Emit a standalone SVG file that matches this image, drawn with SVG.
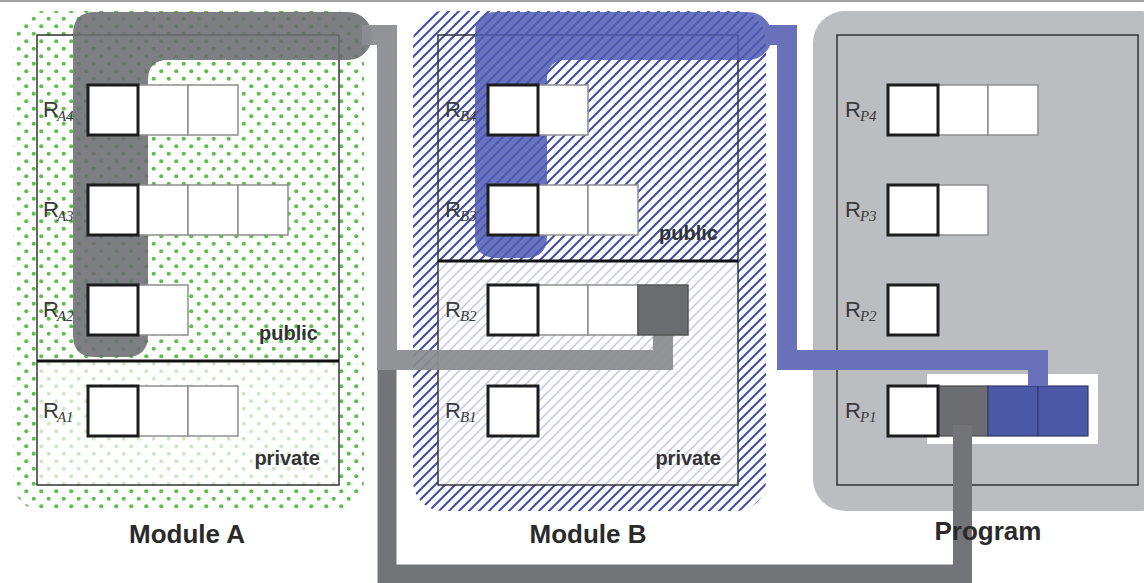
<svg xmlns="http://www.w3.org/2000/svg" width="1144" height="583" viewBox="0 0 1144 583">
<style>
.cell{fill:#fff;stroke:#8e8e8e;stroke-width:1.5}
.key{fill:#fff;stroke:#1c1c1c;stroke-width:3}
.frame{fill:none;stroke:#333;stroke-width:1.5}
.div{stroke:#111;stroke-width:3}
.lbl{font-family:"Liberation Sans",Arial,sans-serif;font-size:22px;fill:#3a3a3a}
.sub{font-family:"Liberation Serif","Times New Roman",serif;font-size:15px;font-style:italic}
.vis{font-family:"Liberation Sans",Arial,sans-serif;font-size:20px;font-weight:bold;fill:#333;text-anchor:end}
.title{font-family:"Liberation Sans",Arial,sans-serif;font-size:26px;font-weight:bold;fill:#2a2a2a;text-anchor:middle}
.conn{fill:none;stroke-linejoin:miter;stroke-linecap:butt}
</style>
<defs>
<pattern id="dots" patternUnits="userSpaceOnUse" width="15" height="15">
<circle cx="3.75" cy="3.75" r="2.1" fill="#5cbf4a"/>
<circle cx="11.25" cy="11.25" r="2.1" fill="#5cbf4a"/>
</pattern>
<pattern id="dotsLight" patternUnits="userSpaceOnUse" width="15" height="15">
<circle cx="3.75" cy="3.75" r="2" fill="#cce9c4"/>
<circle cx="11.25" cy="11.25" r="2" fill="#cce9c4"/>
</pattern>
<pattern id="hatch" patternUnits="userSpaceOnUse" width="10" height="10">
<path d="M-1,1 L1,-1 M0,10 L10,0 M9,11 L11,9" stroke="#3d4cae" stroke-width="2"/>
</pattern>
<pattern id="hatchLight" patternUnits="userSpaceOnUse" width="10" height="10">
<path d="M-1,1 L1,-1 M0,10 L10,0 M9,11 L11,9" stroke="#c3c7e6" stroke-width="1.5"/>
</pattern>
</defs>
<rect x="0" y="0" width="1144" height="583" fill="#fff"/>
<rect x="0" y="0" width="1144" height="2" fill="#a0a0a0"/>

<g id="moduleA">
<rect x="13" y="11" width="351" height="500" rx="30" fill="url(#dots)"/>
<rect x="37" y="361" width="302" height="124" fill="#fff"/>
<rect x="37" y="361" width="302" height="124" fill="url(#dotsLight)"/>
<rect class="frame" x="37" y="35" width="302" height="450"/>
<line class="div" x1="37" y1="361" x2="339" y2="361"/>
<text class="vis" x="318" y="340">public</text>
<text class="vis" x="320" y="465">private</text>
<text class="title" x="187" y="543">Module A</text>
</g>

<g id="moduleB">
<rect x="413" y="11" width="353" height="500" rx="30" fill="url(#hatch)"/>
<rect x="438" y="261" width="300" height="224" fill="#fff"/>
<rect x="438" y="261" width="300" height="224" fill="url(#hatchLight)"/>
<rect class="frame" x="438" y="35" width="300" height="450"/>
<line class="div" x1="438" y1="261" x2="738" y2="261"/>
<text class="vis" x="718" y="240">public</text>
<text class="vis" x="721" y="465">private</text>
<text class="title" x="588" y="543">Module B</text>
</g>

<g id="program">
<rect x="813" y="11" width="360" height="500" rx="32" fill="#bcbdc1"/>
<rect class="frame" x="837" y="35" width="301" height="450"/>
</g>

<g id="exports">
<path d="M95,12 H348 A24,24 0 0 1 348,60 H168 Q148,60 148,80 V335 Q148,357 126,357 H95 Q73,357 73,335 V34 Q73,12 95,12 Z" fill="#6c6d71" fill-opacity="0.88"/>
<path d="M497,12 H748 A24,24 0 0 1 748,60 H567 Q547,60 547,80 V236 Q547,258 525,258 H497 Q475,258 475,236 V34 Q475,12 497,12 Z" fill="#4f5ab3" fill-opacity="0.85"/>
</g>

<g id="connectors">
<path class="conn" d="M362,35 H387 V360 H663 V335" stroke="#8c8d91" stroke-width="20" stroke-opacity="0.95"/>
<path class="conn" d="M766,35 H787 V360 H1038 V374" stroke="#6a71bb" stroke-width="20"/>
</g>

<g id="regA4"><rect class="cell" x="138" y="85" width="50" height="50"/><rect class="cell" x="188" y="85" width="50" height="50"/><rect class="key" x="88" y="85" width="50" height="50"/><text class="lbl" x="43" y="117">R<tspan class="sub" dx="-2" dy="4">A4</tspan></text></g>
<g id="regA3"><rect class="cell" x="138" y="185" width="50" height="50"/><rect class="cell" x="188" y="185" width="50" height="50"/><rect class="cell" x="238" y="185" width="50" height="50"/><rect class="key" x="88" y="185" width="50" height="50"/><text class="lbl" x="43" y="217">R<tspan class="sub" dx="-2" dy="4">A3</tspan></text></g>
<g id="regA2"><rect class="cell" x="138" y="285" width="50" height="50"/><rect class="key" x="88" y="285" width="50" height="50"/><text class="lbl" x="43" y="317">R<tspan class="sub" dx="-2" dy="4">A2</tspan></text></g>
<g id="regA1"><rect class="cell" x="138" y="386" width="50" height="50"/><rect class="cell" x="188" y="386" width="50" height="50"/><rect class="key" x="88" y="386" width="50" height="50"/><text class="lbl" x="43" y="418">R<tspan class="sub" dx="-2" dy="4">A1</tspan></text></g>

<g id="regB4"><rect class="cell" x="538" y="85" width="50" height="50"/><rect class="key" x="488" y="85" width="50" height="50"/><text class="lbl" x="445" y="117">R<tspan class="sub" dx="-1" dy="4">B4</tspan></text></g>
<g id="regB3"><rect class="cell" x="538" y="185" width="50" height="50"/><rect class="cell" x="588" y="185" width="50" height="50"/><rect class="key" x="488" y="185" width="50" height="50"/><text class="lbl" x="445" y="217">R<tspan class="sub" dx="-1" dy="4">B3</tspan></text></g>
<g id="regB2"><rect class="cell" x="538" y="285" width="50" height="50"/><rect class="cell" x="588" y="285" width="50" height="50"/><rect x="638" y="285" width="50" height="50" fill="#6b6c70" stroke="#555" stroke-width="1.5"/><rect class="key" x="488" y="285" width="50" height="50"/><text class="lbl" x="445" y="317">R<tspan class="sub" dx="-1" dy="4">B2</tspan></text></g>
<g id="regB1"><rect class="key" x="488" y="386" width="50" height="50"/><text class="lbl" x="445" y="418">R<tspan class="sub" dx="-1" dy="4">B1</tspan></text></g>

<g id="regP4"><rect class="cell" x="938" y="85" width="50" height="50"/><rect class="cell" x="988" y="85" width="50" height="50"/><rect class="key" x="888" y="85" width="50" height="50"/><text class="lbl" x="845" y="117">R<tspan class="sub" dx="-1" dy="4">P4</tspan></text></g>
<g id="regP3"><rect class="cell" x="938" y="185" width="50" height="50"/><rect class="key" x="888" y="185" width="50" height="50"/><text class="lbl" x="845" y="217">R<tspan class="sub" dx="-1" dy="4">P3</tspan></text></g>
<g id="regP2"><rect class="key" x="888" y="285" width="50" height="50"/><text class="lbl" x="845" y="317">R<tspan class="sub" dx="-1" dy="4">P2</tspan></text></g>
<g id="regP1">
<rect x="927" y="374" width="171" height="70" fill="#fff"/>
<rect x="938" y="386" width="50" height="50" fill="#6c6d71" stroke="#4a4a4e" stroke-width="1.2"/>
<rect x="988" y="386" width="50" height="50" fill="#4b57a7" stroke="#333a6a" stroke-width="1.2"/>
<rect x="1038" y="386" width="50" height="50" fill="#4b57a7" stroke="#333a6a" stroke-width="1.2"/>
<rect class="key" x="888" y="386" width="50" height="50"/>
<text class="lbl" x="845" y="418">R<tspan class="sub" dx="-1" dy="4">P1</tspan></text>
</g>

<g id="connectors-over">
<path class="conn" d="M1038,372 V386" stroke="#6a71bb" stroke-width="20"/>
<path class="conn" d="M962.5,425 V574 H387 V370" stroke="#737478" stroke-width="19"/>
</g>
<text class="title" x="988" y="540">Program</text>
</svg>
